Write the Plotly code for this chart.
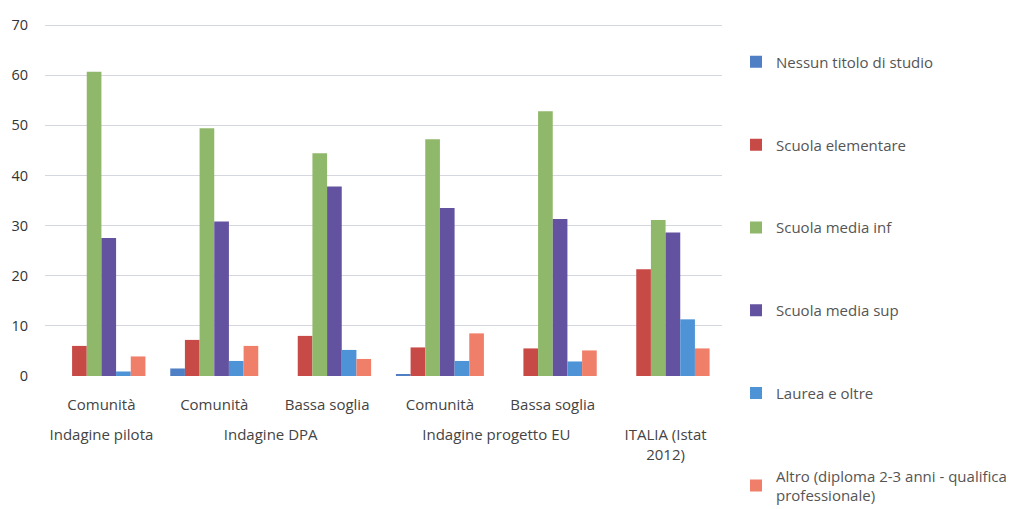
import plotly.graph_objects as go

outer = ["Indagine pilota", "Indagine DPA", "Indagine DPA",
         "Indagine progetto EU", "Indagine progetto EU", "ITALIA (Istat<br>2012)"]
inner = ["Comunità", "Comunità", "Bassa soglia", "Comunità", "Bassa soglia", " "]

series_names = ["Nessun titolo di studio", "Scuola elementare", "Scuola media inf",
                "Scuola media sup", "Laurea e oltre",
                "Altro (diploma 2-3 anni - qualifica<br>professionale)"]
nessun = [0.0, 1.5, 0.0, 0.3, 0.0, 0.0]
elementare = [6.0, 7.2, 8.0, 5.7, 5.5, 21.3]
media_inf = [60.7, 49.4, 44.4, 47.2, 52.8, 31.1]
media_sup = [27.5, 30.8, 37.8, 33.5, 31.3, 28.6]
laurea = [0.9, 3.0, 5.2, 3.0, 2.9, 11.3]
altro = [3.9, 6.0, 3.4, 8.5, 5.1, 5.5]
series_values = [nessun, elementare, media_inf, media_sup, laurea, altro]
colors = ["#4f7fc4", "#c84a46", "#90b86a", "#6352a0", "#4d93d6", "#f07f6a"]
y_ticks = [0, 10, 20, 30, 40, 50, 60, 70]

# inner labels get an extra blank line so the outer level sits lower, like the original
inner_lbl = [t + "<br><span style='font-size:34px'> </span>" for t in inner]

fig = go.Figure()
for i, (name, vals, col) in enumerate(zip(series_names, series_values, colors)):
    fig.add_trace(go.Bar(x=[outer, inner_lbl], y=vals, name=name, marker_color=col,
                         marker_line_width=0, legendgroup=f"g{i}"))

fig.update_layout(
    width=1009, height=501,
    margin=dict(l=37, r=295, t=15, b=133, autoexpand=False),
    paper_bgcolor="white", plot_bgcolor="white",
    font=dict(family="Open Sans", size=13, color="#444"),
    barmode="group", bargap=0.22, bargroupgap=0,
    showlegend=True,
    legend=dict(x=1.0207, y=0.936, xanchor="left", yanchor="top",
                traceorder="grouped", tracegroupgap=60.3, maxheight=700,
                font=dict(size=15, color="#555"), bgcolor="rgba(0,0,0,0)"),
)
fig.update_yaxes(range=[0, 70.4], tickvals=y_ticks, showgrid=True, gridcolor="#d4d6e0",
                 gridwidth=1, zeroline=False, showline=False, ticks="", automargin=False,
                 tickfont=dict(size=14.5, color="#333"), ticklabelstandoff=16)
fig.update_xaxes(showline=False, ticks="", showdividers=False, automargin=False,
                 tickfont=dict(size=15, color="#444"), ticklabelstandoff=18)

fig.write_html("out.html")
